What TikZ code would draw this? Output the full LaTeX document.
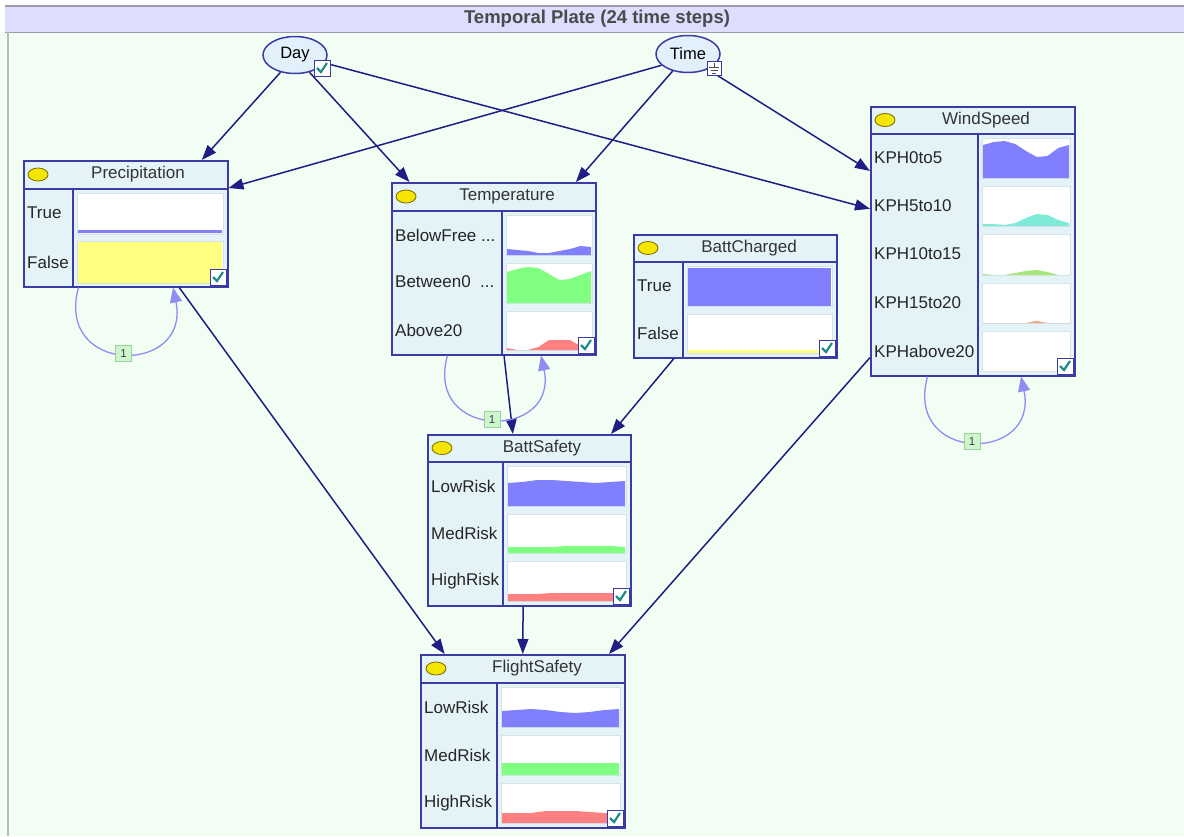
\documentclass[tikz,border=0pt]{standalone}
\usepackage{fontspec}
\setmainfont{Liberation Sans}
\usetikzlibrary{arrows.meta, positioning, shapes.geometric, calc}
\definecolor{plateBg}{HTML}{F2FDF3}
\definecolor{bandLav}{HTML}{DDDDFD}
\definecolor{bandLine}{HTML}{9C9CA8}
\definecolor{titleGray}{HTML}{4A4A4A}
\definecolor{nodeBlue}{HTML}{3B3BA6}
\definecolor{paneBlue}{HTML}{E3F3F8}
\definecolor{cellEdge}{HTML}{D5E2EA}
\definecolor{edgeNavy}{HTML}{1E1E84}
\definecolor{loopLilac}{HTML}{8E8EF2}
\definecolor{tagFill}{HTML}{CFF5CF}
\definecolor{tagEdge}{HTML}{9CCF9C}
\definecolor{tickTeal}{HTML}{1F8A8A}
\definecolor{probBlue}{HTML}{8080FF}
\definecolor{probGreen}{HTML}{80FF80}
\definecolor{probRed}{HTML}{FF8080}
\definecolor{probYellow}{HTML}{FFFF80}
\definecolor{probCyan}{HTML}{80EAD8}
\definecolor{probLime}{HTML}{A6E67A}
\definecolor{probOrange}{HTML}{F2A27C}
\definecolor{bulbYellow}{HTML}{F4E600}
\definecolor{bulbEdge}{HTML}{7A6A00}
\definecolor{ovalFill}{HTML}{E1F0FB}

% white cell of a state: left, top, right, bottom
\newcommand{\probcell}[4]{\filldraw[fill=white, draw=cellEdge, line width=0.8pt] (#1,#2) rectangle (#3,#4);}
% belief over the 24 steps: colour, left, bottom, width, nine heights
\newcommand{\probarea}[5]{\fill[#1] (#2,#3) \foreach \h [count=\k from 0] in {#5} { -- ({#2+\k*#4/8},{#3-\h}) } -- ({#2+#4},#3) -- cycle;}
% ticked box, bottom right corner
\newcommand{\tickbox}[2]{%
  \filldraw[fill=white, draw=nodeBlue, line width=1pt] ({#1-16},{#2-16}) rectangle (#1,#2);
  \draw[tickTeal, line width=2.2pt] ({#1-13},{#2-8}) -- ({#1-9},{#2-4}) -- ({#1-3},{#2-13});}
% yellow bulb in a header
\newcommand{\bulb}[2]{\filldraw[fill=bulbYellow, draw=bulbEdge, line width=0.8pt] (#1,#2) ellipse [x radius=10, y radius=6.5];}

\tikzset{
  bnbox/.style={draw=nodeBlue, fill=paneBlue, line width=1.5pt, anchor=north west, inner sep=0pt},
  oval/.style={ellipse, draw=nodeBlue, fill=ovalFill, line width=1.5pt, minimum width=64pt,
    minimum height=37pt, inner sep=0pt, font=\fontsize{16.5}{18}\selectfont},
  headtitle/.style={inner sep=0pt, text=black!80, font=\fontsize{17}{19}\selectfont},
  statelbl/.style={anchor=west, inner sep=0pt, text=black!85, font=\fontsize{17}{19}\selectfont},
  rule/.style={draw=nodeBlue, line width=1.5pt},
  causal/.style={draw=edgeNavy, line width=1.5pt, -{Triangle[length=15pt, width=11pt]}},
  lag/.style={draw=loopLilac, line width=1.3pt, -{Triangle[length=15pt, width=12pt]}},
  lagtag/.style={draw=tagEdge, fill=tagFill, line width=0.8pt, minimum size=16pt, inner sep=0pt,
    text=black!75, font=\fontsize{11.5}{12}\selectfont}
}

\begin{document}
\begin{tikzpicture}[x=1pt, y=-1pt]
  \useasboundingbox (0,0) rectangle (1184,836);
  % plate
  \fill[white] (0,0) rectangle (1184,836);
  \fill[plateBg] (0,32) rectangle (1184,836);
  \fill[bandLav] (5,6) rectangle (1184,32);
  \draw[bandLine, line width=1.5pt] (5,6) -- (1184,6);
  \draw[bandLine, line width=1pt] (5,32) -- (1184,32);
  \draw[bandLine!70, line width=2pt] (8,32) -- (8,836);
  \node[text=titleGray, font=\bfseries\fontsize{18.5}{20}\selectfont] (platetitle) at (597,19) {Temporal Plate (24 time steps)};

  % context nodes
  \node[oval] (day) at (295,55) {Day};
  \node[oval] (time) at (688,54) {Time};

  % Precipitation
  \node[bnbox, minimum width=204pt, minimum height=126pt] (precip) at (23,160) {};
  \draw[rule] (23,189) -- (227,189) (73,189) -- (73,286);
  \bulb{38}{174.5}
  \node[headtitle] (precip-title) at (138,174.5) {Precipitation};
  \probcell{77}{193}{223}{234} \probarea{probBlue}{78}{233}{144}{3,3,3,3,3,3,3,3,3}
  \probcell{77}{241}{223}{283} \probarea{probYellow}{78}{283}{144}{41,41,41,41,41,41,41,41,41}
  \node[statelbl] (precip-true) at (27,213) {True};
  \node[statelbl] (precip-false) at (27,262) {False};
  \tickbox{226}{285}

  % Temperature
  \node[bnbox, minimum width=204pt, minimum height=172pt] (temp) at (391,182) {};
  \draw[rule] (391,211) -- (595,211) (502,211) -- (502,354);
  \bulb{406}{196.5}
  \node[headtitle] (temp-title) at (507,196.5) {Temperature};
  \probcell{506}{215}{592}{255} \probarea{probBlue}{507}{255}{84}{6,5,4,2,2,4,6,9,8}
  \probcell{506}{263}{592}{303} \probarea{probGreen}{507}{303}{84}{31,34,36,35,29,23,24,28,32}
  \probcell{506}{311}{592}{350} \probarea{probRed}{507}{350}{84}{2,0,0,3,10,10,10,4,0}
  \node[statelbl] (temp-below) at (395,235) {BelowFree ...};
  \node[statelbl] (temp-between) at (395,282) {Between0\ \ ...};
  \node[statelbl] (temp-above) at (395,330) {Above20};
  \tickbox{594}{353}

  % BattCharged
  \node[bnbox, minimum width=203pt, minimum height=123pt] (battchg) at (633,234) {};
  \draw[rule] (633,262) -- (836,262) (683,262) -- (683,357);
  \bulb{648}{248}
  \node[headtitle] (battchg-title) at (749,248) {BattCharged};
  \probcell{687}{266}{832}{306} \fill[probBlue] (688,268) rectangle (831,306);
  \probcell{687}{314}{832}{353} \probarea{probYellow}{688}{353}{143}{3,3,3,3,3,3,3,3,3}
  \node[statelbl] (battchg-true) at (637,286) {True};
  \node[statelbl] (battchg-false) at (637,333) {False};
  \tickbox{835}{356}

  % WindSpeed
  \node[bnbox, minimum width=204pt, minimum height=269pt] (wind) at (870,106) {};
  \draw[rule] (870,134) -- (1074,134) (978,134) -- (978,375);
  \bulb{885}{120}
  \node[headtitle] (wind-title) at (986,120) {WindSpeed};
  \probcell{982}{138}{1070}{178} \probarea{probBlue}{983}{178}{86}{33,36,37,34,27,21,22,30,33}
  \probcell{982}{186}{1070}{226} \probarea{probCyan}{983}{226}{86}{2,2,1,3,8,12,11,6,3}
  \probcell{982}{234}{1070}{275} \probarea{probLime}{983}{275}{86}{1,0,0,2,4,5,3,0,0}
  \probcell{982}{283}{1070}{323} \probarea{probOrange}{983}{323}{86}{0,0,0,0,0,2,0,0,0}
  \probcell{982}{331}{1070}{371}
  \node[statelbl] (wind-s1) at (874,158) {KPH0to5};
  \node[statelbl] (wind-s2) at (874,206) {KPH5to10};
  \node[statelbl] (wind-s3) at (874,254) {KPH10to15};
  \node[statelbl] (wind-s4) at (874,303) {KPH15to20};
  \node[statelbl] (wind-s5) at (874,351) {KPHabove20};
  \tickbox{1073}{374}

  % BattSafety
  \node[bnbox, minimum width=203pt, minimum height=171pt] (battsafe) at (427,434) {};
  \draw[rule] (427,462) -- (630,462) (503,462) -- (503,605);
  \bulb{442}{448}
  \node[headtitle] (battsafe-title) at (542,448) {BattSafety};
  \probcell{507}{466}{626}{506} \probarea{probBlue}{508}{506}{117}{23,24,26,26,25,24,23,24,25}
  \probcell{507}{514}{626}{553} \probarea{probGreen}{508}{553}{117}{6,6,6,6,7,7,7,7,6}
  \probcell{507}{561}{626}{601} \probarea{probRed}{508}{601}{117}{7,7,7,8,8,8,8,8,8}
  \node[statelbl] (battsafe-low) at (431,486) {LowRisk};
  \node[statelbl] (battsafe-med) at (431,533) {MedRisk};
  \node[statelbl] (battsafe-high) at (431,581) {HighRisk};
  \tickbox{629}{604}

  % FlightSafety
  \node[bnbox, minimum width=204pt, minimum height=173pt] (flight) at (420,654) {};
  \draw[rule] (420,683) -- (624,683) (497,683) -- (497,827);
  \bulb{436}{668.5}
  \node[headtitle] (flight-title) at (537,668.5) {FlightSafety};
  \probcell{501}{687}{620}{727} \probarea{probBlue}{502}{727}{117}{16,17,18,17,15,14,15,17,18}
  \probcell{501}{735}{620}{775} \probarea{probGreen}{502}{775}{117}{12,12,12,12,12,12,12,12,12}
  \probcell{501}{783}{620}{823} \probarea{probRed}{502}{823}{117}{10,10,10,12,12,12,11,10,10}
  \node[statelbl] (flight-low) at (424,707) {LowRisk};
  \node[statelbl] (flight-med) at (424,755) {MedRisk};
  \node[statelbl] (flight-high) at (424,803) {HighRisk};
  \tickbox{623}{826}

  % causal links
  \draw[causal] (day.230) -- ($(precip.north west)!0.87!(precip.north east)$);
  \draw[causal] (day.310) -- ($(temp.north west)!0.09!(temp.north east)$);
  \draw[causal] (day.345) -- ($(wind.north west)!0.38!(wind.south west)$);
  \draw[causal] (time.203) -- ($(precip.north east)!0.22!(precip.south east)$);
  \draw[causal] (time.228) -- ($(temp.north west)!0.9!(temp.north east)$);
  \draw[causal] (time.322) -- ($(wind.north west)!0.24!(wind.south west)$);
  \draw[causal] ($(precip.south west)!0.76!(precip.south east)$) -- ($(flight.north west)!0.12!(flight.north east)$);
  \draw[causal] ($(temp.south west)!0.55!(temp.south east)$) -- ($(battsafe.north west)!0.42!(battsafe.north east)$);
  \draw[causal] ($(battchg.south west)!0.2!(battchg.south east)$) -- ($(battsafe.north west)!0.9!(battsafe.north east)$);
  \draw[causal] ($(wind.north west)!0.93!(wind.south west)$) -- ($(flight.north west)!0.92!(flight.north east)$);
  \draw[causal] ($(battsafe.south west)!0.47!(battsafe.south east)$) -- ($(flight.north west)!0.5!(flight.north east)$);

  % one-step temporal arcs
  \draw[lag] ($(precip.south west)!0.27!(precip.south east)$) .. controls +(-24,88) and +(18,88) .. ($(precip.south west)!0.73!(precip.south east)$) node[lagtag, pos=0.5] (precip-lag) {1};
  \draw[lag] ($(temp.south west)!0.275!(temp.south east)$) .. controls +(-24,85) and +(18,85) .. ($(temp.south west)!0.73!(temp.south east)$) node[lagtag, pos=0.5] (temp-lag) {1};
  \draw[lag] ($(wind.south west)!0.28!(wind.south east)$) .. controls +(-24,87) and +(18,87) .. ($(wind.south west)!0.735!(wind.south east)$) node[lagtag, pos=0.5] (wind-lag) {1};

  % markers on the ovals, over the link ends
  \tickbox{330}{76}
  \filldraw[fill=white, draw=nodeBlue, line width=1pt] (707,61) rectangle (721,75);
  \draw[black!70, line width=1pt] (714,63) -- (714,67) (709,67) -- (719,67) (710.5,70) -- (717.5,70) (712,73) -- (716,73);
\end{tikzpicture}
\end{document}
